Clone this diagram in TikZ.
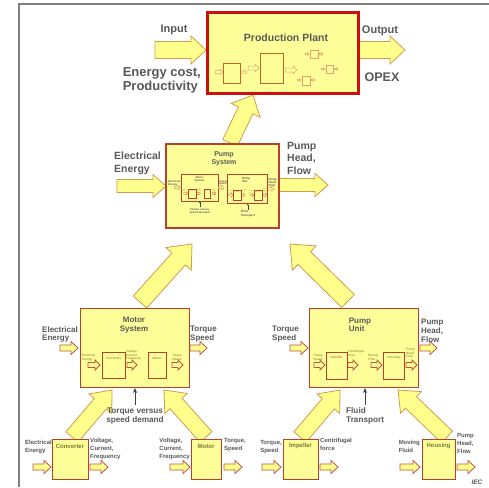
\documentclass[tikz,border=0pt]{standalone}
\usepackage{fontspec}
\setmainfont{Liberation Sans}
\usetikzlibrary{calc,arrows.meta}
\definecolor{boxyel}{HTML}{FFFF99}
\definecolor{boxred}{HTML}{B9402A}
\definecolor{ppred}{HTML}{CC1010}
\definecolor{arryel}{HTML}{FFFF8C}
\definecolor{arredge}{HTML}{D29A4E}
\definecolor{smedge}{HTML}{C0504D}
\definecolor{txtgray}{HTML}{595959}
\definecolor{olivetxt}{HTML}{7E7A2E}
\definecolor{framegray}{HTML}{7F7F7F}
\definecolor{pibord}{HTML}{C86428}
\definecolor{pilite}{HTML}{E0A070}
\newcommand\fsz[2]{\fontsize{#1}{#2}\selectfont}
\tikzset{
 box/.style={draw=boxred, fill=boxyel, line width=1.1pt, inner sep=0pt},
 ibox/.style={draw=boxred, fill=boxyel, line width=0.9pt, inner sep=0pt},
 ppbox/.style={draw=ppred, fill=boxyel, line width=3pt, inner sep=0pt},
 pibox/.style={draw=pibord, fill=boxyel, line width=0.9pt, inner sep=0pt},
 bigarr/.style={draw=arredge, fill=arryel, line width=0.8pt, line join=miter},
 smarr/.style={draw=smedge, fill=arryel, line width=0.8pt, line join=miter},
 ppsm/.style={draw=pilite, fill=boxyel, line width=0.5pt},
 thinarr/.style={draw=black!75, line width=0.8pt, -{Stealth[length=5pt,width=4pt]}},
 lbl/.style={text=txtgray, inner sep=0pt, align=left},
 inl/.style={text=olivetxt, inner sep=0pt, align=left},
}
% block arrow between two named coordinates
\newcommand\barrow[6][bigarr]{%
 \path[#1] let \p1=(#2), \p2=(#3), \n1={atan2(\y2-\y1,\x2-\x1)}, \n2={veclen(\x2-\x1,\y2-\y1)} in
 {[shift={(\p1)}, rotate=\n1] (0,#4) -- ({\n2-#6},#4) -- ({\n2-#6},#5) -- ({\n2},0) -- ({\n2-#6},-#5) -- ({\n2-#6},-#4) -- (0,-#4) -- cycle};}
% horizontal block arrow
\newcommand\harrow[7][smarr]{%
 \draw[#1] (#2,#4-#5) -- (#3-#7,#4-#5) -- (#3-#7,#4-#6) -- (#3,#4) -- (#3-#7,#4+#6) -- (#3-#7,#4+#5) -- (#2,#4+#5) -- cycle;}
% motor system parts (local coordinates, box 109x79)
\newcommand\motorcore[1]{%
 \node[box, anchor=north west, minimum width=109pt, minimum height=79pt] (#1box) at (0,0) {};
 \node[lbl, align=center, font=\bfseries\fsz{8}{8.5}] (#1ttl) at (54,17) {Motor\\System};
 \harrow{8}{20}{57}{2.5}{5}{5}
 \harrow{47}{57}{57}{2.5}{5}{5}
 \harrow{92}{103}{57}{2.5}{5}{5}
 \node[ibox, anchor=north west, minimum width=23pt, minimum height=26pt] (#1conv) at (22,44) {};
 \node[ibox, anchor=north west, minimum width=18pt, minimum height=26pt] (#1mot) at (68,44) {};
 \node[inl, font=\fsz{3.4}{3.6}] (#1convt) at (33.5,50) {Converter};
 \node[inl, font=\fsz{3.4}{3.6}] (#1mott) at (77,50) {Motor};
 \node[inl, anchor=north west, font=\fsz{3.2}{3.6}] (#1l1) at (2,46) {Electrical\\Energy};
 \node[inl, anchor=north west, font=\fsz{3.2}{3.6}] (#1l2) at (46,42) {Voltage,\\Current,\\Frequency};
 \node[inl, anchor=north west, font=\fsz{3.2}{3.6}] (#1l3) at (92,46) {Torque\\Speed};
}
\newcommand\motorleft[1]{%
 \harrow{-20}{-2}{40}{3}{6.5}{7}
 \node[lbl, anchor=north west, font=\bfseries\fsz{8}{8.5}] (#1lft) at (-38,18) {Electrical\\Energy};
}
\newcommand\motorright[1]{%
 \harrow{110}{127}{40}{3}{6.5}{7}
 \node[lbl, anchor=north west, font=\bfseries\fsz{8}{8.5}] (#1rgt) at (110,18) {Torque\\Speed};
}
\newcommand\motorbottom[1]{%
 \coordinate (#1dA) at (55,97); \coordinate (#1dB) at (55,80);
 \draw[thinarr] (#1dA) -- (#1dB);
 \node[lbl, align=center, font=\bfseries\fsz{8.2}{9}] (#1dem) at (55,108.5) {Torque versus\\speed demand};
}
% pump unit parts (local coordinates, box 109x79)
\newcommand\pumpcore[1]{%
 \node[box, anchor=north west, minimum width=109pt, minimum height=79pt] (#1box) at (0,0) {};
 \node[lbl, font=\bfseries\fsz{8}{8.5}] (#1ttl) at (51,17) {Pump\\Unit};
 \harrow{5}{16}{57}{2.5}{5}{5}
 \harrow{39}{49}{57}{2.5}{5}{5}
 \harrow{62}{73}{57}{2.5}{5}{5}
 \harrow{97}{108}{57}{2.5}{5}{5}
 \node[ibox, anchor=north west, minimum width=21pt, minimum height=27pt] (#1imp) at (17,44) {};
 \node[ibox, anchor=north west, minimum width=21pt, minimum height=27pt] (#1hou) at (74,44) {};
 \node[inl, font=\fsz{3.4}{3.6}] (#1impt) at (27.5,50) {Impeller};
 \node[inl, font=\fsz{3.4}{3.6}] (#1hout) at (84.5,50) {Housing};
 \node[inl, anchor=north west, font=\fsz{3.2}{3.6}] (#1l1) at (4,46) {Torque\\Speed};
 \node[inl, anchor=north west, font=\fsz{3.2}{3.6}] (#1l2) at (39,42) {Centrifugal\\force};
 \node[inl, anchor=north west, font=\fsz{3.2}{3.6}] (#1l3) at (59,46) {Moving\\Fluid};
 \node[inl, anchor=north west, font=\fsz{3.2}{3.6}] (#1l4) at (97,40) {Pump\\Head\\Flow};
}
\newcommand\pumpleft[1]{%
 \harrow{-19}{-1}{40}{3}{6.5}{7}
 \node[lbl, anchor=north west, font=\bfseries\fsz{8}{8.5}] (#1lft) at (-37,18) {Torque\\Speed};
}
\newcommand\pumpright[1]{%
 \harrow{111}{128}{40}{3}{6.5}{7}
 \node[lbl, anchor=north west, font=\bfseries\fsz{8}{9}] (#1rgt) at (112,11) {Pump\\Head,\\Flow};
}
\newcommand\pumpbottom[1]{%
 \coordinate (#1dA) at (56,97); \coordinate (#1dB) at (56,80);
 \draw[thinarr] (#1dA) -- (#1dB);
 \node[lbl, anchor=north west, font=\bfseries\fsz{8.2}{9}] (#1fl) at (37,99) {Fluid\\Transport};
}
\begin{document}
\begin{tikzpicture}[x=1pt,y=-1pt]
\useasboundingbox (0,0) rectangle (489,487);
\fill[white] (0,0) rectangle (489,487);
\draw[framegray, line width=1.6pt] (19,487) -- (19,4) -- (489,4);

% ---------- top: production plant ----------
\coordinate (inA) at (155,50); \coordinate (inB) at (206,50);
\barrow{inA}{inB}{8.5}{14}{15}
\coordinate (outA) at (356,50); \coordinate (outB) at (405,50);
\barrow{outA}{outB}{8.5}{14}{15}
\coordinate (psA) at (230,143); \coordinate (psB) at (253,95);
\barrow{psA}{psB}{8}{16}{17}
\node[ppbox, anchor=north west, minimum width=151pt, minimum height=81pt] (pp) at (206,11) {};
\node[lbl, font=\bfseries\fsz{10.5}{12}] (ppt) at (286,38) {Production\hspace{3pt}Plant};
\node[lbl, font=\bfseries\fsz{11}{12}] (inl) at (174,30) {Input};
\node[lbl, font=\bfseries\fsz{11}{12}] (outl) at (380,31) {Output};
\node[lbl, anchor=north east, font=\bfseries\fsz{13}{14}] (ecost) at (201,67) {Energy cost,\\Productivity};
\node[lbl, font=\bfseries\fsz{12.5}{13}] (opex) at (382,77) {OPEX};
% inner sketch of the plant
\harrow[ppsm]{215}{223}{72}{1.5}{3}{3}
\node[pibox, anchor=north west, minimum width=17pt, minimum height=20pt] (pb1) at (223,63) {};
\harrow[ppsm]{241}{247}{72}{1}{2}{2.5}
\harrow[ppsm]{248}{259}{68}{2}{4}{4}
\node[pibox, anchor=north west, minimum width=23pt, minimum height=30pt] (pb2) at (260,53) {};
\harrow[ppsm]{285}{297}{70}{2}{4}{4}
\node[pibox, draw=pilite, line width=0.6pt, anchor=north west, minimum width=8pt, minimum height=8pt] (pt1) at (310,50) {};
\harrow[ppsm]{305}{309}{54}{0.6}{1.4}{1.6}
\harrow[ppsm]{319}{323}{54}{0.6}{1.4}{1.6}
\node[pibox, draw=pilite, line width=0.6pt, anchor=north west, minimum width=7pt, minimum height=8pt] (pt2) at (326,65) {};
\harrow[ppsm]{321}{325}{69}{0.6}{1.4}{1.6}
\harrow[ppsm]{334}{338}{69}{0.6}{1.4}{1.6}
\node[pibox, draw=pilite, line width=0.6pt, anchor=north west, minimum width=8pt, minimum height=9pt] (pt3) at (302,76) {};
\harrow[ppsm]{297}{301}{80}{0.6}{1.4}{1.6}
\harrow[ppsm]{311}{315}{80}{0.6}{1.4}{1.6}

% ---------- middle: pump system ----------
\coordinate (eeA) at (117,186); \coordinate (eeB) at (166,186);
\barrow{eeA}{eeB}{6.5}{11.5}{13}
\coordinate (phA) at (279,185); \coordinate (phB) at (328,185);
\barrow{phA}{phB}{6.5}{11.5}{13}
\coordinate (msA) at (140,302); \coordinate (msB) at (192,244);
\barrow{msA}{msB}{9}{17}{20}
\coordinate (puA) at (348,301); \coordinate (puB) at (290,244);
\barrow{puA}{puB}{9}{17}{20}
\node[box, minimum width=113pt, minimum height=84pt] (psys) at (222.5,186) {};
\node[lbl, align=center, font=\bfseries\fsz{7}{8}] (psyst) at (224,159) {Pump\\System};
\node[lbl, anchor=north west, font=\bfseries\fsz{10.5}{13}] (eel) at (114,152) {Electrical\\Energy};
\node[lbl, anchor=north west, font=\bfseries\fsz{10.5}{12.5}] (phl) at (287,142) {Pump\\Head,\\Flow};
\begin{scope}[shift={(181,174)}, scale=0.34, transform shape,
  box/.append style={line width=0.6pt}, ibox/.append style={line width=0.3pt},
  smarr/.append style={line width=0.25pt},
  thinarr/.append style={line width=0.3pt, -{Stealth[length=2pt,width=1.6pt]}}]
 \motorleft{mm}\motorcore{mm}\motorright{mm}\motorbottom{mm}
\end{scope}
\begin{scope}[shift={(227,174)}, scale=0.37, transform shape,
  box/.append style={line width=0.6pt}, ibox/.append style={line width=0.3pt},
  smarr/.append style={line width=0.25pt},
  thinarr/.append style={line width=0.3pt, -{Stealth[length=2pt,width=1.6pt]}}]
 \pumpcore{pm}\pumpright{pm}\pumpbottom{pm}
\end{scope}

% ---------- lower: motor system and pump unit ----------
\coordinate (cvA) at (72,437); \coordinate (cvB) at (112,390);
\barrow{cvA}{cvB}{8}{15}{18}
\coordinate (moA) at (206,437); \coordinate (moB) at (164,390);
\barrow{moA}{moB}{8}{15}{18}
\coordinate (imA) at (300,437); \coordinate (imB) at (340,390);
\barrow{imA}{imB}{8}{15}{18}
\coordinate (hoA) at (447,437); \coordinate (hoB) at (398,390);
\barrow{hoA}{hoB}{8}{15}{18}
\begin{scope}[shift={(80,308)}]
 \motorleft{ms}\motorcore{ms}\motorright{ms}\motorbottom{ms}
\end{scope}
\begin{scope}[shift={(309,308)}]
 \pumpleft{pu}\pumpcore{pu}\pumpright{pu}\pumpbottom{pu}
\end{scope}

% ---------- bottom row: components ----------
\harrow{33}{51}{467}{3}{6.5}{7}
\harrow{90}{108}{467}{3}{6.5}{7}
\harrow{170}{190}{467}{3}{6.5}{7}
\harrow{224}{242}{467}{3}{6.5}{7}
\harrow{262}{281}{467}{3}{6.5}{7}
\harrow{320}{338}{467}{3}{6.5}{7}
\harrow{400}{420}{467}{3}{6.5}{7}
\harrow{457}{475}{467}{3}{6.5}{7}
\node[box, anchor=north west, minimum width=36pt, minimum height=40pt] (conv) at (52,439) {};
\node[box, anchor=north west, minimum width=30pt, minimum height=40pt] (mot) at (191,439) {};
\node[box, anchor=north west, minimum width=35pt, minimum height=40pt] (imp) at (283,439) {};
\node[box, anchor=north west, minimum width=33pt, minimum height=40pt] (hou) at (422,439) {};
\node[inl, font=\bfseries\fsz{6}{7}] (convt) at (70,446) {Converter};
\node[inl, font=\bfseries\fsz{6}{7}] (mott) at (206,446) {Motor};
\node[inl, font=\bfseries\fsz{6}{7}] (impt) at (300.5,446) {Impeller};
\node[inl, font=\bfseries\fsz{6}{7}] (hout) at (438.5,446) {Housing};
\node[lbl, anchor=north east, font=\bfseries\fsz{6}{8}] (b1) at (52,440) {Electrical\\Energy};
\node[lbl, anchor=north west, font=\bfseries\fsz{6}{8}] (b2) at (90,438) {Voltage,\\Current,\\Frequency};
\node[lbl, anchor=north east, font=\bfseries\fsz{6}{8}] (b3) at (190,438) {Voltage,\\Current,\\Frequency};
\node[lbl, anchor=north west, font=\bfseries\fsz{6}{8}] (b4) at (224,438) {Torque,\\Speed};
\node[lbl, anchor=north east, font=\bfseries\fsz{6}{8}] (b5) at (282,440) {Torque,\\Speed};
\node[lbl, anchor=north west, font=\bfseries\fsz{6}{8}] (b6) at (320,438) {Centrifugal\\force};
\node[lbl, anchor=north east, font=\bfseries\fsz{6}{8}] (b7) at (420,440) {Moving\\Fluid};
\node[lbl, anchor=north west, font=\bfseries\fsz{6}{8}] (b8) at (457,433) {Pump\\Head,\\Flow};
\node[lbl, font=\bfseries\itshape\fsz{6.5}{7}] (iec) at (477,482) {IEC};
\end{tikzpicture}
\end{document}
